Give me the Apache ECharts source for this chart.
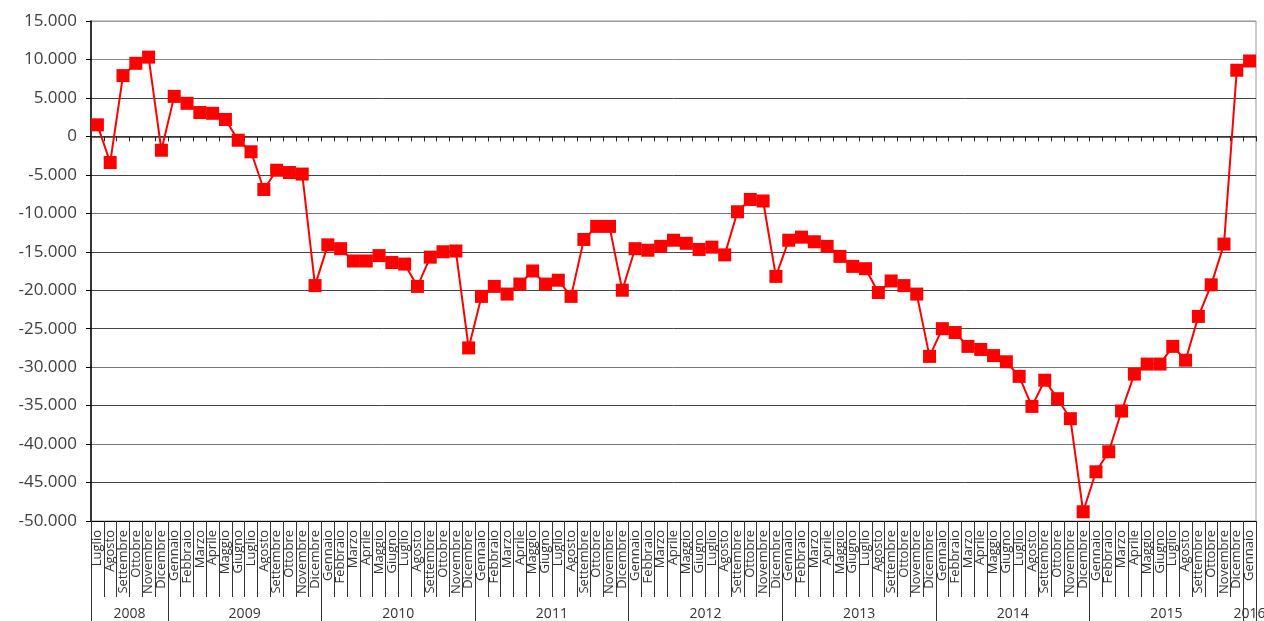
<!DOCTYPE html>
<html><head><meta charset="utf-8">
<script src="https://cdn.jsdelivr.net/npm/echarts@6/dist/echarts.min.js"></script>
<style>html,body{margin:0;padding:0;background:#fff}#c{width:1264px;height:621px}</style>
</head><body><div id="c"></div>
<script>
// Month names (Italian)
const monthNames = ['Gennaio','Febbraio','Marzo','Aprile','Maggio','Giugno','Luglio','Agosto','Settembre','Ottobre','Novembre','Dicembre'];
// Years shown: [year label, first month index, number of months]
const yearGroups = [
  ['2008', 6, 6], ['2009', 0, 12], ['2010', 0, 12], ['2011', 0, 12], ['2012', 0, 12],
  ['2013', 0, 12], ['2014', 0, 12], ['2015', 0, 12], ['2016', 0, 1]
];
// Values, Luglio 2008 .. Gennaio 2016
const values2008 = [1500, -3400, 7900, 9500, 10300, -1800];
const values2009 = [5200, 4300, 3100, 3000, 2200, -500, -2000, -6900, -4400, -4700, -4900, -19400];
const values2010 = [-14100, -14600, -16200, -16200, -15500, -16400, -16600, -19500, -15700, -15000, -14900, -27500];
const values2011 = [-20800, -19500, -20500, -19200, -17500, -19200, -18700, -20800, -13400, -11700, -11700, -20000];
const values2012 = [-14600, -14800, -14300, -13500, -13900, -14700, -14400, -15400, -9800, -8200, -8400, -18200];
const values2013 = [-13500, -13100, -13700, -14300, -15600, -16900, -17200, -20300, -18800, -19400, -20500, -28600];
const values2014 = [-25000, -25500, -27300, -27700, -28500, -29300, -31200, -35100, -31700, -34100, -36700, -48800];
const values2015 = [-43600, -41000, -35700, -30900, -29600, -29600, -27300, -29100, -23400, -19300, -14000, 8600];
const values2016 = [9800];
// Y axis range / step
const yMin = -50000, yMax = 15000, yStep = 5000;

const values = [].concat(values2008, values2009, values2010, values2011, values2012, values2013, values2014, values2015, values2016);

const categories = [];
const yearStarts = [];
const yearLabelData = [];
const shiftedLabels = {};
yearGroups.forEach(function (g) {
  const start = categories.length;
  yearStarts.push(start);
  for (let i = 0; i < g[2]; i++) { categories.push(monthNames[g[1] + i]); yearLabelData.push(''); }
  let idx;
  if (g[2] % 2 === 0) { idx = start + g[2] / 2 - 1; shiftedLabels[idx] = true; }
  else { idx = start + (g[2] - 1) / 2; }
  yearLabelData[idx] = g[0];
});

function fmtNum(v) {
  if (v === 0) return '0';
  const s = String(Math.abs(v)).replace(/\B(?=(\d{3})+(?!\d))/g, '.');
  return (v < 0 ? '-' : '') + s;
}

const FONT = '"Open Sans", "Liberation Sans", sans-serif';
const gridLeft = 91, gridRight = 8;
const band = (1264 - gridLeft - gridRight) / categories.length;

const chart = echarts.init(document.getElementById('c'), null, {renderer: 'canvas'});
chart.setOption({
  animation: false,
  backgroundColor: '#fff',
  grid: {left: gridLeft, right: gridRight, top: 21, bottom: 100, show: true, borderColor: '#999', borderWidth: 1, containLabel: false, outerBoundsMode: 'none'},
  xAxis: [
    {
      type: 'category', data: categories, position: 'bottom',
      axisLine: {show: true, onZero: true, lineStyle: {color: '#333', width: 1.5}},
      axisTick: {show: true, interval: 0, length: 5, lineStyle: {color: '#222'}},
      axisLabel: {show: false}, splitLine: {show: false}, z: 5
    },
    {
      type: 'category', data: categories, position: 'bottom',
      axisLine: {show: true, onZero: false, lineStyle: {color: '#000', width: 1}},
      axisTick: {show: true, interval: 0, length: 76, lineStyle: {color: '#333'}},
      axisLabel: {show: true, interval: 0, rotate: 90, margin: 9, fontSize: 13, color: '#333', fontFamily: FONT},
      splitLine: {show: false}
    },
    {
      type: 'category', data: yearLabelData, position: 'bottom',
      axisLine: {show: false, onZero: false},
      axisTick: {show: true, length: 100, interval: function (i) { return yearStarts.indexOf(i) >= 0; }, lineStyle: {color: '#333'}},
      axisLabel: {
        show: true, interval: 0, margin: 86, fontSize: 14, color: '#333', fontFamily: FONT,
        formatter: function (v, i) { return v === '' ? '' : (shiftedLabels[i] ? '{s|' + v + '}' : v); },
        rich: {s: {padding: [0, 0, 0, band], fontSize: 14, color: '#333', fontFamily: FONT}}
      },
      splitLine: {show: false}
    }
  ],
  yAxis: {
    type: 'value', min: yMin, max: yMax, interval: yStep,
    axisLine: {show: true, lineStyle: {color: '#000', width: 1.5}},
    axisTick: {show: true, length: 5, lineStyle: {color: '#000'}},
    axisLabel: {margin: 14, fontSize: 17, color: '#404040', fontFamily: FONT, formatter: fmtNum},
    splitLine: {show: true, lineStyle: {color: ['#444','#444','#777','#444','#777','#444','#444','#444','#777','#444','#444','#444','#888','#999'], width: 1}}
  },
  series: [{
    type: 'line', data: values, xAxisIndex: 0, yAxisIndex: 0,
    symbol: 'rect', symbolSize: 13, showAllSymbol: true,
    lineStyle: {color: '#ff0000', width: 2},
    itemStyle: {color: '#ff0000'},
    z: 10
  }]
});
</script>
</body></html>
